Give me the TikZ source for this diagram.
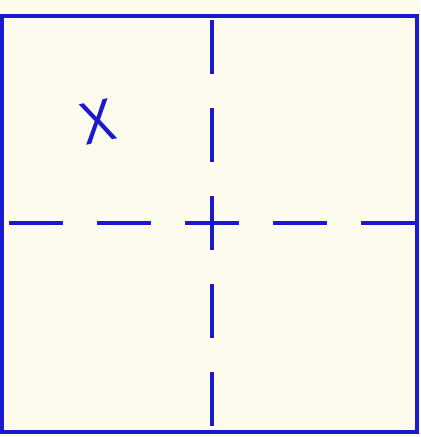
\documentclass[tikz,border=0pt]{standalone}
\usepackage{fontspec}
\setmainfont{Liberation Sans}
\definecolor{paper}{RGB}{252,251,238}
\definecolor{ink}{RGB}{25,25,205}

\begin{document}
\begin{tikzpicture}[x=0.01cm,y=-0.01cm]
\fill[paper] (0,0) rectangle (420,437);
\useasboundingbox (0,0) rectangle (420,437);
\coordinate (c) at (212,223);
\draw[ink,line width=1.1pt] (2,16) rectangle (417,432);
\foreach \k in {-2,...,2}{
  \draw[ink,line width=1pt] ([yshift=-(88*\k-27)*0.01cm]c) -- ([yshift=-(88*\k+27)*0.01cm]c);
  \draw[ink,line width=1pt] ([xshift=(88*\k-27)*0.01cm]c) -- ([xshift=(88*\k+27)*0.01cm]c);
}
\node[ink,font=\fontsize{17}{17}\selectfont,rotate=12,xscale=0.85,inner sep=0pt] (mark) at (98,122) {X};
\end{tikzpicture}
\end{document}
